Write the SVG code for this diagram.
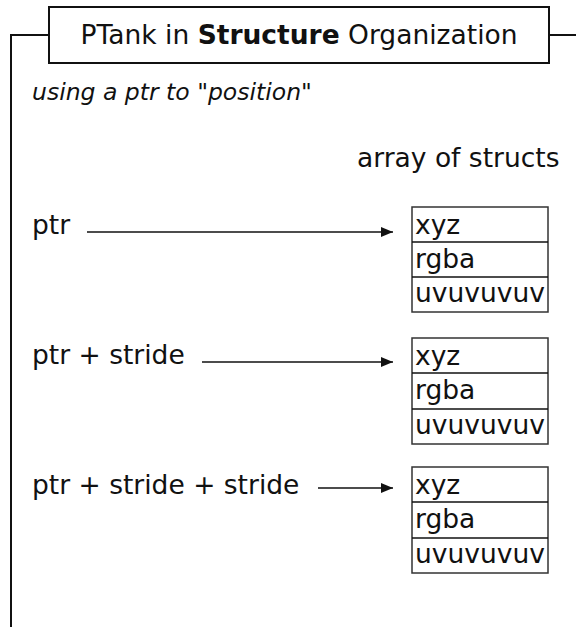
<svg xmlns="http://www.w3.org/2000/svg" width="576" height="627" viewBox="0 0 576 627">
<style>
text{font-family:"DejaVu Sans","Verdana",sans-serif;fill:#111;font-size:26.5px}
.frame{fill:none;stroke:#111;stroke-width:2}
.box{fill:#fff;stroke:#333;stroke-width:1.5}
.div{stroke:#111;stroke-width:1.5}
.conn{stroke:#111;stroke-width:1.3;fill:none}
</style>
<defs>
<marker id="ah" markerWidth="12" markerHeight="10" refX="12" refY="5" orient="auto" markerUnits="userSpaceOnUse">
<polygon points="0,0 12,5 0,10" fill="#111"/>
</marker>
</defs>
<g id="frame">
<polyline class="frame" points="49,35 11,35 11,627"/>
<line class="frame" x1="549" y1="35" x2="576" y2="35"/>
</g>
<g id="title">
<rect class="frame" x="49" y="7" width="500" height="56" fill="#fff"/>
<text x="299" y="44" text-anchor="middle">PTank in <tspan font-weight="bold">Structure</tspan> Organization</text>
</g>
<text x="32" y="100" font-style="italic" style="font-size:23.5px">using a ptr to "position"</text>
<text x="357" y="167">array of structs</text>
<g id="ptr0"><text x="32" y="234">ptr</text></g>
<g id="ptr1"><text x="32" y="364">ptr + stride</text></g>
<g id="ptr2"><text x="32" y="494">ptr + stride + stride</text></g>
<g id="struct0">
<rect class="box" x="412" y="207" width="136" height="105"/>
<line class="div" x1="412" y1="242" x2="548" y2="242"/>
<line class="div" x1="412" y1="277" x2="548" y2="277"/>
<text x="415" y="234">xyz</text>
<text x="415" y="268">rgba</text>
<text x="415" y="302">uvuvuvuv</text>
</g>
<g id="struct1">
<rect class="box" x="412" y="338" width="136" height="106"/>
<line class="div" x1="412" y1="373" x2="548" y2="373"/>
<line class="div" x1="412" y1="409" x2="548" y2="409"/>
<text x="415" y="365">xyz</text>
<text x="415" y="399">rgba</text>
<text x="415" y="434">uvuvuvuv</text>
</g>
<g id="struct2">
<rect class="box" x="412" y="467" width="136" height="106"/>
<line class="div" x1="412" y1="502" x2="548" y2="502"/>
<line class="div" x1="412" y1="538" x2="548" y2="538"/>
<text x="415" y="494">xyz</text>
<text x="415" y="528">rgba</text>
<text x="415" y="563">uvuvuvuv</text>
</g>
<g id="connectors">
<line class="conn" x1="87" y1="232" x2="393" y2="232" marker-end="url(#ah)"/>
<line class="conn" x1="202" y1="362" x2="393" y2="362" marker-end="url(#ah)"/>
<line class="conn" x1="318" y1="488" x2="393" y2="488" marker-end="url(#ah)"/>
</g>
</svg>
